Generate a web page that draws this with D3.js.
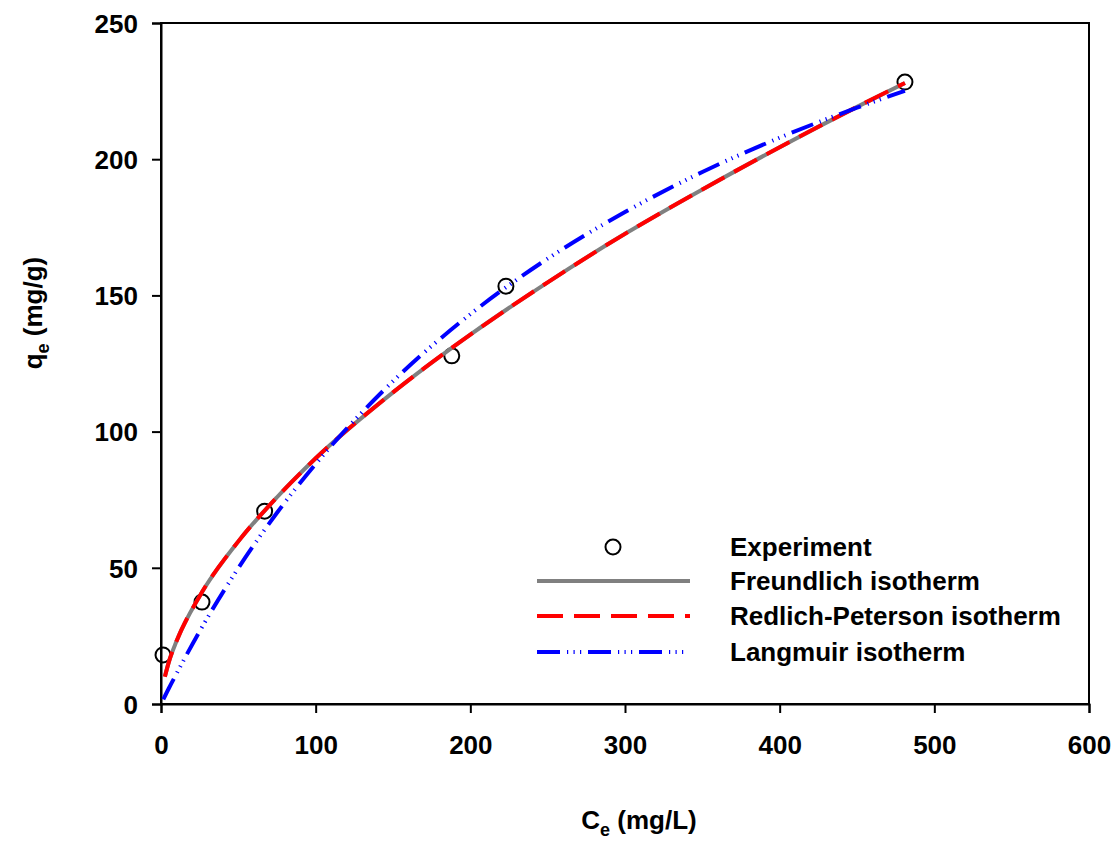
<!DOCTYPE html>
<html>
<head>
<meta charset="utf-8">
<script src="https://cdn.jsdelivr.net/npm/d3@7"></script>
<style>
  body { margin: 0; background: #fff; }
  text { font-family: "Liberation Sans", Arial, sans-serif; font-weight: bold; }
</style>
</head>
<body>
<div id="chart"></div>
<script>
// Experimental points (Ce mg/L, qe mg/g)
var expCe = [1.3, 26.5, 67, 188, 223, 481];
var expQe = [18.0, 37.4, 70.8, 127.8, 153.4, 228.3];

// Fitted curves
var freundCe = [2.5, 5, 10, 25, 50, 75, 100, 150, 200, 250, 300, 350, 400, 450, 481];
var freundQe = [10.1, 15.3, 23.0, 39.6, 59.7, 75.9, 90.2, 114.4, 135.6, 154.8, 172.6, 188.9, 204.4, 219.2, 228.0];

var redlichCe = [2.5, 5, 10, 25, 50, 75, 100, 150, 200, 250, 300, 350, 400, 450, 481];
var redlichQe = [10.0, 15.3, 23.0, 39.6, 59.7, 75.9, 90.2, 114.4, 135.6, 154.8, 172.6, 188.9, 204.4, 219.2, 228.0];

var langCe = [1.5, 5, 10, 25, 50, 75, 100, 150, 200, 250, 300, 350, 400, 450, 481];
var langQe = [1.7, 5.7, 11.1, 26.7, 49.9, 70.2, 88.1, 118.5, 143.1, 163.5, 180.6, 195.3, 207.9, 218.9, 225.1];

var xTicks = [0, 100, 200, 300, 400, 500, 600];
var yTicks = [0, 50, 100, 150, 200, 250];

var legendLabels = ["Experiment", "Freundlich isotherm", "Redlich-Peterson isotherm", "Langmuir isotherm"];

var W = 1119, H = 841;
var margin = { top: 23, left: 161 },
    width = 1089 - margin.left,
    height = 704 - margin.top;

var svg = d3.select("#chart")
    .append("svg")
    .attr("width", W)
    .attr("height", H);

var g = svg.append("g")
    .attr("transform", "translate(" + margin.left + "," + margin.top + ")");

var x = d3.scaleLinear().domain([0, 600]).range([0, width]);
var y = d3.scaleLinear().domain([0, 250]).range([height, 0]);

// frame
g.append("rect")
    .attr("x", 0).attr("y", 0)
    .attr("width", width).attr("height", height)
    .attr("fill", "none")
    .attr("stroke", "#000")
    .attr("stroke-width", 2);

// axes
var xAxis = g.append("g")
    .attr("transform", "translate(0," + height + ")")
    .call(d3.axisBottom(x).tickValues(xTicks).tickSize(9).tickPadding(23).tickFormat(d3.format("d")));
var yAxis = g.append("g")
    .call(d3.axisLeft(y).tickValues(yTicks).tickSize(9).tickPadding(14).tickFormat(d3.format("d")));

[xAxis, yAxis].forEach(function (a) {
    a.select(".domain").attr("stroke", "#000").attr("stroke-width", 2);
    a.selectAll(".tick line").attr("stroke", "#000").attr("stroke-width", 2);
    a.selectAll(".tick text")
        .attr("fill", "#000")
        .style("font-size", "26px")
        .style("font-family", "'Liberation Sans', Arial, sans-serif")
        .style("font-weight", "bold");
});
yAxis.selectAll(".tick text").attr("dy", "0.36em");

// experiment circles
g.selectAll(".pt")
    .data(expCe.map(function (c, i) { return [c, expQe[i]]; }))
    .enter().append("circle")
    .attr("cx", function (d) { return x(d[0]); })
    .attr("cy", function (d) { return y(d[1]); })
    .attr("r", 7.5)
    .attr("fill", "none")
    .attr("stroke", "#000")
    .attr("stroke-width", 2);

var line = d3.line()
    .x(function (d) { return x(d[0]); })
    .y(function (d) { return y(d[1]); })
    .curve(d3.curveMonotoneX);

function zip(a, b) { return a.map(function (v, i) { return [v, b[i]]; }); }

var styles = [
    { color: "#808080", dash: null },
    { color: "#ff0000", dash: "26,11" },
    { color: "#0000ff", dash: "23,7,1.2,5.3,1.2,5.3,1.2,6.8" }
];

var curves = [zip(freundCe, freundQe), zip(redlichCe, redlichQe), zip(langCe, langQe)];

curves.forEach(function (c, i) {
    g.append("path")
        .datum(c)
        .attr("fill", "none")
        .attr("stroke", styles[i].color)
        .attr("stroke-width", 4)
        .attr("stroke-dasharray", styles[i].dash)
        .attr("d", line);
});

// legend
var leg = svg.append("g");
var rowY = [547, 581, 616, 652];
leg.append("circle")
    .attr("cx", 613).attr("cy", rowY[0]).attr("r", 7.5)
    .attr("fill", "none").attr("stroke", "#000").attr("stroke-width", 2);
styles.forEach(function (s, i) {
    leg.append("line")
        .attr("x1", 537).attr("x2", 690)
        .attr("y1", rowY[i + 1]).attr("y2", rowY[i + 1])
        .attr("stroke", s.color)
        .attr("stroke-width", 4)
        .attr("stroke-dasharray", s.dash);
});
legendLabels.forEach(function (t, i) {
    leg.append("text")
        .attr("x", 730).attr("y", rowY[i])
        .attr("dy", "0.35em")
        .style("font-size", "26px")
        .text(t);
});

// axis titles
var xt = svg.append("text")
    .attr("x", 639).attr("y", 829)
    .attr("text-anchor", "middle")
    .style("font-size", "26px");
xt.append("tspan").text("C");
xt.append("tspan").attr("dy", 7).style("font-size", "18px").text("e");
xt.append("tspan").attr("dy", -7).text(" (mg/L)");

var yt = svg.append("text")
    .attr("transform", "translate(42,313) rotate(-90)")
    .attr("text-anchor", "middle")
    .style("font-size", "26px");
yt.append("tspan").text("q");
yt.append("tspan").attr("dy", 7).style("font-size", "18px").text("e");
yt.append("tspan").attr("dy", -7).text(" (mg/g)");
</script>
</body>
</html>
